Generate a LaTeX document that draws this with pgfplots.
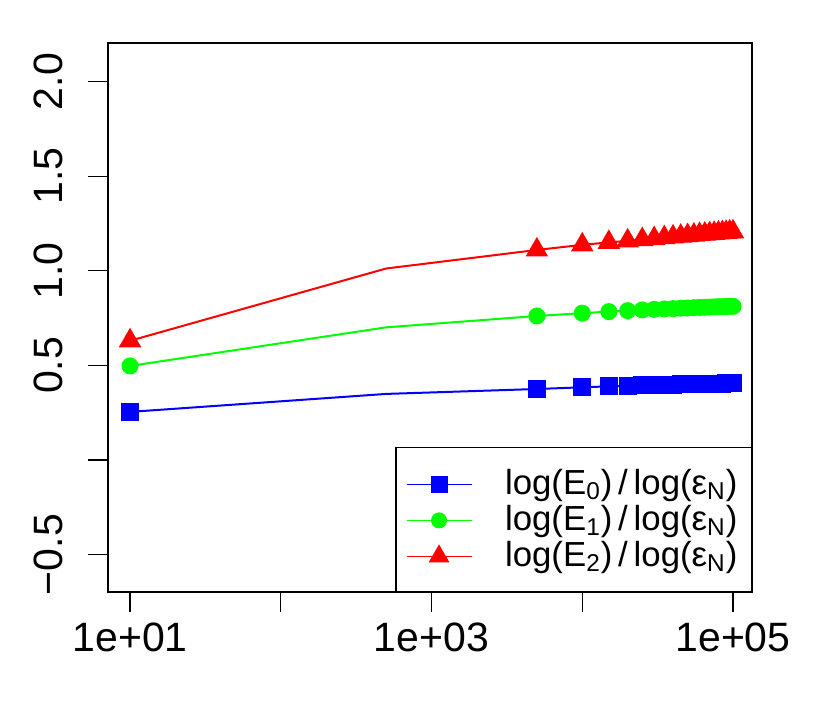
\documentclass[border=0pt]{standalone}
\usepackage{fontspec}
\setmainfont{Liberation Sans}
\usepackage{pgfplots}
\pgfplotsset{compat=1.18}
\newcommand{\LE}[1]{#1\hspace*{2pt}}
\begin{document}
\begin{tikzpicture}
\useasboundingbox (-54pt,-57pt) rectangle (361pt,296pt);
\begin{semilogxaxis}[
  at={(0,0)}, anchor=south west,
  scale only axis, width=322pt, height=274.5pt,
  xmin=7.14, xmax=133700, ymin=-0.698, ymax=2.204,
  xtick={10,100,1000,10000,100000},
  xticklabels={1e+01,,1e+03,,1e+05},
  ytick={-0.5,0,0.5,1,1.5,2},
  yticklabels={−0.5,,0.5,1.0,1.5,2.0},
  xminorticks=false, yminorticks=false,
  tick align=outside, major tick length=10pt,
  xtick pos=bottom, ytick pos=left,
  axis line style={line width=0.6pt, black},
  every tick/.style={line width=0.6pt, black},
  tick label style={font=\fontsize{20.5}{24}\selectfont},
  yticklabel style={rotate=90, anchor=south, inner sep=0pt},
  xticklabel style={anchor=north, inner sep=0pt},
  xticklabel shift=5pt, yticklabel shift=12.5pt,
  clip=false,
  legend style={at={(1,0)}, anchor=south east, draw=black, line width=0.6pt, fill=white,
    inner xsep=5pt, inner ysep=9pt, row sep=0pt, column sep=16.5pt,
    font=\fontsize{17.4}{18}\selectfont,
    nodes={inner sep=0pt, text height=14.5pt, text depth=3.5pt}},
  legend cell align=left,
  legend image code/.code={%
    \draw[#1,line width=0.5pt,mark=none] (0pt,-0.5pt) -- (32.5pt,-0.5pt);
    \draw[#1,line width=0.5pt] plot coordinates {(16.25pt,-0.5pt)};},
]
\addplot[color=blue, line width=1pt, mark=square*, mark size=4pt, mark options={solid, fill=blue, draw=blue},
  mark indices={1,3,4,5,6,7,8,9,10,11,12,13,14,15,16,17,18,19,20,21,22}] coordinates {
(10,0.254) (500,0.349) (5000,0.375) (10000,0.384) (15000,0.389) (20000,0.392) (25000,0.394)
(30000,0.396) (35000,0.397) (40000,0.398) (45000,0.399) (50000,0.400) (55000,0.401)
(60000,0.402) (65000,0.402) (70000,0.403) (75000,0.403) (80000,0.404) (85000,0.404)
(90000,0.405) (95000,0.405) (100000,0.406)};
\addlegendentry{\LE{log(E\textsubscript{0})\,/\,log(ε\textsubscript{N})}}
\addplot[color=green, line width=1pt, mark=*, mark size=3.75pt, mark options={solid, fill=green, draw=green},
  mark indices={1,3,4,5,6,7,8,9,10,11,12,13,14,15,16,17,18,19,20,21,22}] coordinates {
(10,0.497) (500,0.701) (5000,0.761) (10000,0.776) (15000,0.784) (20000,0.789) (25000,0.793)
(30000,0.796) (35000,0.798) (40000,0.800) (45000,0.802) (50000,0.803) (55000,0.805)
(60000,0.806) (65000,0.807) (70000,0.808) (75000,0.809) (80000,0.810) (85000,0.810)
(90000,0.811) (95000,0.812) (100000,0.812)};
\addlegendentry{\LE{log(E\textsubscript{1})\,/\,log(ε\textsubscript{N})}}
\addplot[color=red, line width=1pt, mark=triangle*, mark size=5.5pt, mark options={solid, fill=red, draw=red},
  mark indices={1,3,4,5,6,7,8,9,10,11,12,13,14,15,16,17,18,19,20,21,22}] coordinates {
(10,0.630) (500,1.012) (5000,1.110) (10000,1.137) (15000,1.150) (20000,1.158) (25000,1.165)
(30000,1.170) (35000,1.175) (40000,1.179) (45000,1.183) (50000,1.186) (55000,1.189)
(60000,1.192) (65000,1.194) (70000,1.196) (75000,1.198) (80000,1.200) (85000,1.202)
(90000,1.203) (95000,1.205) (100000,1.206)};
\addlegendentry{\LE{log(E\textsubscript{2})\,/\,log(ε\textsubscript{N})}}
\end{semilogxaxis}
\end{tikzpicture}
\end{document}
